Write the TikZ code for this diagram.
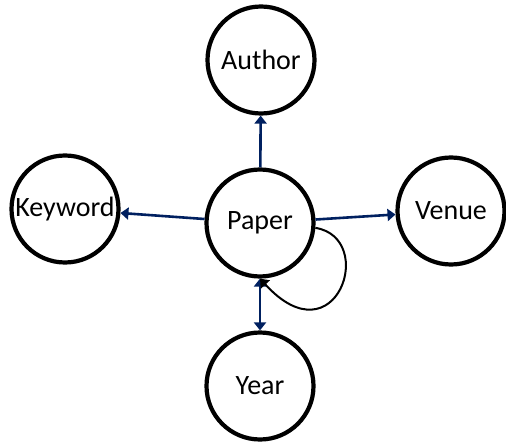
\documentclass[tikz,border=0pt]{standalone}
\usepackage{fontspec}
\setmainfont{Carlito}
\usetikzlibrary{arrows.meta}
\definecolor{navy}{RGB}{0,32,96}
\begin{document}
\begin{tikzpicture}[x=1pt,y=-1pt,
  entity/.style={circle,draw=black,line width=4.2pt,fill=white,minimum size=107pt,inner sep=0pt,font=\fontsize{28}{32}\selectfont},
  tip/.style={-{Triangle[length=8pt,width=12pt]}},
  rel/.style={draw=navy,line width=2.6pt,tip},
  loop/.style={draw=black,line width=2pt,tip}]
\useasboundingbox (0,0) rectangle (506,444);
\node[entity] (paper) at (260,223) {Paper};
\node[entity] (author) at (261,60) {Author};
\node[entity] (keyword) at (65,209) {Keyword};
\node[entity] (venue) at (451,211) {Venue};
\node[entity] (year) at (260,386) {Year};
\draw[rel] (paper) -- (author);
\draw[rel] (paper) -- (keyword);
\draw[rel] (paper) -- (venue);
\draw[rel,{Triangle[length=8pt,width=12pt]}-{Triangle[length=8pt,width=12pt]}] (paper) -- (year);
\draw[loop] (paper.-5) .. controls (378,238) and (336,362) .. (paper.-90);
\end{tikzpicture}
\end{document}
